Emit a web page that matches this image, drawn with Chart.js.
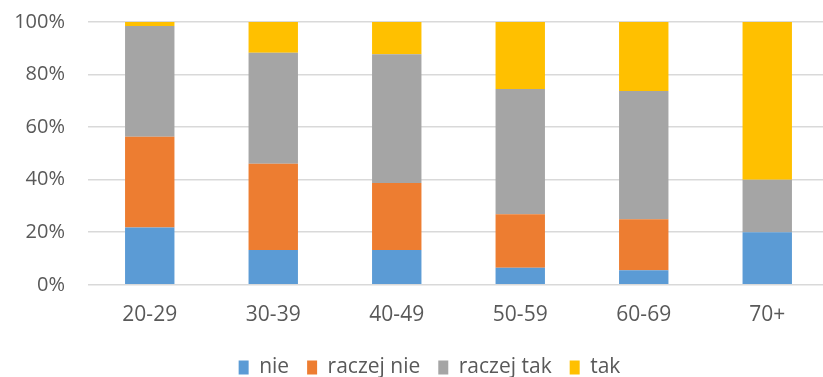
<!DOCTYPE html>
<html>
<head>
<meta charset="utf-8">
<script src="https://cdn.jsdelivr.net/npm/chart.js@4/dist/chart.umd.min.js"></script>
<style>
  html, body { margin: 0; padding: 0; background: #fff; overflow: hidden; }
  #wrap { position: relative; width: 829px; height: 377px; }
</style>
</head>
<body>
<div id="wrap"><canvas id="chart"></canvas></div>
<script>
/* Age groups, share of answers (%) */
const categories = ['20-29', '30-39', '40-49', '50-59', '60-69', '70+'];
const nie = [21.8, 13.2, 13.2, 6.5, 5.5, 20];
const raczejNie = [34.5, 32.9, 25.5, 20.3, 19.4, 0];
const raczejTak = [42.2, 42.2, 49, 47.7, 48.8, 20];
const tak = [1.5, 11.7, 12.3, 25.5, 26.3, 60];
const yTicks = [0, 20, 40, 60, 80, 100];

const textColor = '#595959';
const font = { family: 'Open Sans', size: 21 };

const ds = (label, data, color) => ({
  label, data, backgroundColor: color, borderWidth: 0,
  barPercentage: 0.4, categoryPercentage: 1
});

// legend sits a bit right of centre in the original
const nudgeLegend = {
  id: 'nudgeLegend',
  afterUpdate(chart) {
    chart.legend.left += 15;
    chart.legend.right += 15;
  }
};

new Chart(document.getElementById('chart'), {
  type: 'bar',
  data: {
    labels: categories,
    datasets: [
      ds('nie', nie, '#5B9BD5'),
      ds('raczej nie', raczejNie, '#ED7D31'),
      ds('raczej tak', raczejTak, '#A5A5A5'),
      ds('tak', tak, '#FFC000')
    ]
  },
  plugins: [nudgeLegend],
  options: {
    responsive: true,
    maintainAspectRatio: false,
    animation: false,
    layout: { padding: { top: 22, left: 0, right: 0, bottom: -11 } },
    plugins: {
      tooltip: { enabled: false },
      legend: {
        position: 'bottom',
        labels: { color: textColor, font, boxWidth: 10, boxHeight: 14, padding: 18 }
      }
    },
    scales: {
      x: {
        stacked: true,
        afterFit: s => { s.height += 1; },
        grid: { display: false },
        border: { display: false },
        ticks: { color: textColor, font, padding: 10 }
      },
      y: {
        stacked: true,
        min: 0,
        max: 100,
        // fixed axis width; keep the label gap from padding the plot top
        afterFit: s => { s.width = 88; s.paddingTop = 12; s.paddingBottom = 12; },
        afterBuildTicks: s => { s.ticks = yTicks.map(v => ({ value: v })); },
        grid: { color: '#d9d9d9', lineWidth: 1.5, drawTicks: false },
        border: { display: false },
        ticks: { color: textColor, font: { family: 'Open Sans', size: 20 }, padding: 23, callback: v => v + '%' }
      }
    }
  }
});
</script>
</body>
</html>
